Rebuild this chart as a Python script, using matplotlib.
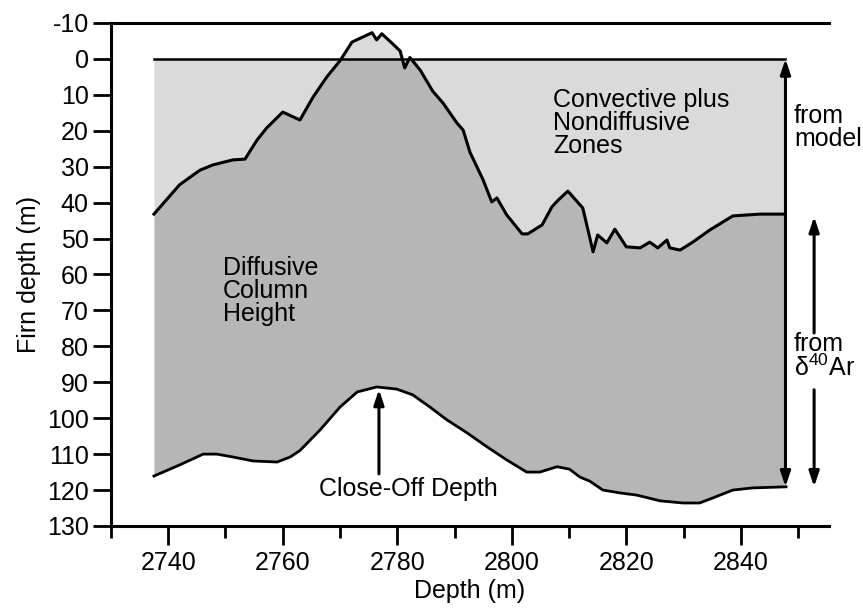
import numpy as np
import matplotlib
matplotlib.use("Agg")
from matplotlib import pyplot as plt

# Upper boundary of the diffusive column (top of diffusive zone), firn depth in m
top_depth = [2737.5, 2739.8, 2742.0, 2745.5, 2747.8, 2751.3, 2753.4, 2755.5, 2757.2,
             2760.0, 2763.0, 2765.3, 2767.7, 2770.0, 2772.1, 2775.6, 2776.4, 2777.3,
             2779.2, 2780.5, 2781.3, 2782.2, 2784.0, 2786.2, 2788.0, 2790.4, 2791.5,
             2792.7, 2795.0, 2796.5, 2797.4, 2799.1, 2801.8, 2802.8, 2805.3, 2807.0,
             2808.1, 2809.8, 2812.4, 2814.2, 2815.0, 2816.6, 2818.0, 2820.0, 2822.4,
             2824.1, 2825.5, 2827.1, 2827.6, 2829.4, 2831.6, 2834.6, 2838.6, 2843.3,
             2847.8]
top_firn = [43.2, 39.0, 35.0, 31.0, 29.5, 28.1, 27.9, 22.6, 19.2,
            14.8, 17.0, 10.6, 5.0, 0.5, -4.7, -7.3, -5.3, -7.0,
            -4.2, -2.2, 2.5, -0.4, 3.1, 9.0, 12.3, 17.8, 19.8,
            26.0, 33.7, 39.8, 38.7, 43.4, 48.7, 48.7, 46.2, 41.2,
            39.3, 36.8, 41.5, 53.7, 49.0, 51.2, 47.4, 52.3, 52.6,
            51.0, 52.6, 50.4, 52.6, 53.2, 51.0, 47.6, 43.7, 43.2,
            43.2]

# Close-off depth
cod_depth = [2737.5, 2742.0, 2746.1, 2748.5, 2751.3, 2754.8, 2759.0, 2761.3, 2763.0,
             2766.5, 2770.0, 2773.0, 2776.4, 2779.9, 2782.7, 2785.7, 2788.7, 2792.2,
             2795.7, 2799.1, 2802.6, 2804.9, 2807.9, 2810.1, 2811.9, 2813.6, 2815.9,
             2818.9, 2821.8, 2825.9, 2829.9, 2832.8, 2835.1, 2838.6, 2842.1, 2847.9]
cod_firn = [116.1, 113.0, 110.0, 110.0, 110.8, 111.9, 112.2, 110.8, 109.0,
            103.3, 96.9, 92.7, 91.3, 91.9, 93.5, 96.9, 100.5, 104.1,
            108.0, 111.6, 115.0, 115.0, 113.5, 114.2, 116.4, 117.5, 120.0,
            120.8, 121.4, 123.0, 123.6, 123.6, 122.2, 120.0, 119.4, 119.1]

plt.rcParams['font.family'] = ['Liberation Sans', 'DejaVu Sans']
plt.rcParams['axes.unicode_minus'] = False
plt.rcParams['mathtext.fontset'] = 'custom'
plt.rcParams['mathtext.rm'] = 'Liberation Sans'
plt.rcParams['mathtext.default'] = 'rm'
fs = 18

fig = plt.figure(figsize=(8.63, 6.08), dpi=100)
ax = fig.add_axes([0.1286, 0.1349, 0.832, 0.8273])

top_x = np.array(top_depth)
top_y = np.array(top_firn)
cod_x = np.array(cod_depth)
cod_y = np.array(cod_firn)

# convective zone (light) and diffusive column (dark)
ax.fill_between(top_x, 0, top_y, color='#dadada', lw=0, zorder=1)
xs = np.union1d(top_x, cod_x)
upper = np.maximum(np.interp(xs, top_x, top_y), 0)
lower = np.interp(xs, cod_x, cod_y)
ax.fill_between(xs, upper, lower, color='#b6b6b6', lw=0, zorder=2)

ax.plot([top_x[0], top_x[-1]], [0, 0], color='black', lw=1.8, zorder=3)
ax.plot(top_x, top_y, color='black', lw=2.2, zorder=4)
ax.plot(cod_x, cod_y, color='black', lw=2.0, zorder=4)

arrow = dict(arrowstyle='<|-|>,head_length=0.9,head_width=0.3', color='black', lw=2.2,
             shrinkA=0, shrinkB=0)
ax.annotate('', xy=(top_x[-1], 0), xytext=(top_x[-1], cod_y[-1]), arrowprops=arrow, zorder=5)

up = dict(arrowstyle='-|>,head_length=0.9,head_width=0.3', color='black', lw=2.2,
          shrinkA=0, shrinkB=0)
ax.annotate('', xy=(2852.8, 43.9), xytext=(2852.8, 76.3), arrowprops=up,
            annotation_clip=False)
ax.annotate('', xy=(2852.8, 119.1), xytext=(2852.8, 92.1), arrowprops=up,
            annotation_clip=False)
ax.annotate('', xy=(2776.8, 92.0), xytext=(2776.8, 115.5), arrowprops=up)

ax.text(2807.2, 8.1, 'Convective plus\nNondiffusive\nZones', fontsize=fs,
        ha='left', va='top', linespacing=0.95, zorder=6)
ax.text(2749.6, 54.8, 'Diffusive\nColumn\nHeight', fontsize=fs,
        ha='left', va='top', linespacing=0.95, zorder=6)
ax.text(2849.3, 12.5, 'from\nmodel', fontsize=fs, ha='left', va='top',
        linespacing=0.95, clip_on=False)
ax.text(2849.3, 76.0, 'from\n' + '\u03b4$^{40}$Ar', fontsize=fs, ha='left', va='top',
        linespacing=0.95, clip_on=False)
ax.text(2781.9, 119.6, 'Close-Off Depth', fontsize=fs, ha='center', va='center', zorder=6)

ax.set_xlim(2730, 2855.4)
ax.set_ylim(130, -10)
ax.set_yticks(np.arange(-10, 131, 10))
ax.set_xticks(np.arange(2740, 2841, 20))
ax.set_xticks(np.arange(2730, 2851, 20), minor=True)
ax.tick_params(axis='y', length=13, width=2, pad=3, labelsize=fs)
ax.tick_params(axis='x', which='major', length=14, width=2, pad=4, labelsize=fs)
ax.tick_params(axis='x', which='minor', length=8.5, width=2)

ax.spines['right'].set_visible(False)
for s in ['left', 'top', 'bottom']:
    ax.spines[s].set_linewidth(2.2)

ax.set_xlabel('Depth (m)', fontsize=fs, labelpad=3)
ax.set_ylabel('Firn depth (m)', fontsize=fs, labelpad=4)

plt.savefig('out.png', dpi=100)
plt.close()
